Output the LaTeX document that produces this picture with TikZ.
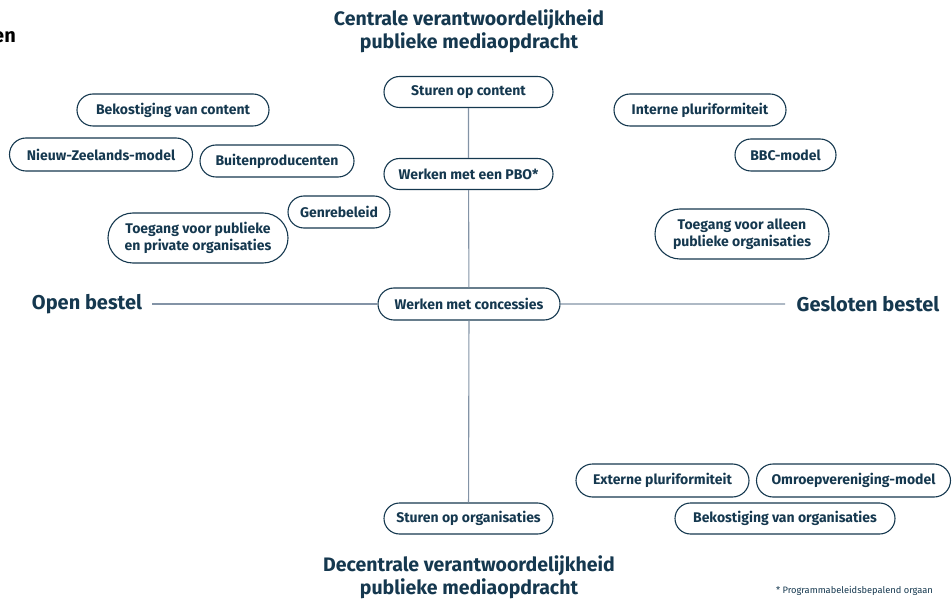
\documentclass[tikz,border=0pt]{standalone}
\usepackage{fontspec}
\setmainfont{Fira Sans}
\usetikzlibrary{shapes.misc}
\definecolor{navy}{HTML}{15384F}
\definecolor{linegray}{HTML}{8393A6}
\tikzset{
  pill/.style={rounded rectangle, draw=navy, line width=1.1pt, text=navy,
    font=\fontsize{14}{16.5}\selectfont\bfseries, inner sep=0pt, align=center},
  heading/.style={text=navy, font=\fontsize{19.5}{23}\selectfont\bfseries, align=center, inner sep=0pt},
  side/.style={text=navy, font=\fontsize{20}{24}\selectfont\bfseries, inner sep=0pt},
  conn/.style={draw=linegray, line width=1.1pt}
}
\begin{document}
\begin{tikzpicture}[x=1pt,y=-1pt]
\useasboundingbox (0,0) rectangle (952,601);
\node[anchor=east, inner sep=0pt, font=\fontsize{20}{24}\selectfont\bfseries] (cut) at (16,37) {en};
\node[heading] (top) at (469,31) {Centrale verantwoordelijkheid\\publieke mediaopdracht};
\node[heading] (bottom) at (469,577) {Decentrale verantwoordelijkheid\\publieke mediaopdracht};
\node[side] (open) at (87,304) {Open bestel};
\node[side] (closed) at (868,304) {Gesloten bestel};
\node[pill, minimum width=169pt, minimum height=31pt] (soc) at (468.5,92) {Sturen op content};
\node[pill, minimum width=169pt, minimum height=31pt] (pbo) at (468.5,174) {Werken met een PBO*};
\node[pill, minimum width=182pt, minimum height=32pt] (conc) at (469,304) {Werken met concessies};
\node[pill, minimum width=169pt, minimum height=31pt] (sorg) at (468.5,518.5) {Sturen op organisaties};
\node[pill, minimum width=192pt, minimum height=32pt] (bvc) at (173,110) {Bekostiging van content};
\node[pill, minimum width=183pt, minimum height=33pt] (nzm) at (101,154.5) {Nieuw-Zeelands-model};
\node[pill, minimum width=154pt, minimum height=32pt] (bp) at (277,161) {Buitenproducenten};
\node[pill, minimum width=102pt, minimum height=32pt] (gb) at (339,212) {Genrebeleid};
\node[pill, minimum width=180pt, minimum height=50pt] (tpp) at (198,238) {Toegang voor publieke\\en private organisaties};
\node[pill, minimum width=172pt, minimum height=32pt] (ip) at (700,110) {Interne pluriformiteit};
\node[pill, minimum width=101pt, minimum height=32pt] (bbc) at (785.5,155) {BBC-model};
\node[pill, minimum width=174pt, minimum height=50pt] (tap) at (742,234) {Toegang voor alleen\\publieke organisaties};
\node[pill, minimum width=173pt, minimum height=33pt] (ep) at (662.5,480.5) {Externe pluriformiteit};
\node[pill, minimum width=194pt, minimum height=33pt] (ovm) at (853.5,480.5) {Omroepvereniging-model};
\node[pill, minimum width=220pt, minimum height=31pt] (bvo) at (785,518.5) {Bekostiging van organisaties};
\node[text=navy, font=\fontsize{9.3}{11}\selectfont, inner sep=0pt] (note) at (854.5,591) {* Programmabeleidsbepalend orgaan};
\coordinate (hl) at (152,304);
\coordinate (hr) at (785,304);
\draw[conn] (soc) -- (pbo);
\draw[conn] (pbo) -- (conc);
\draw[conn] (conc) -- (sorg);
\draw[conn] (hl) -- (conc);
\draw[conn] (conc) -- (hr);
\end{tikzpicture}
\end{document}
